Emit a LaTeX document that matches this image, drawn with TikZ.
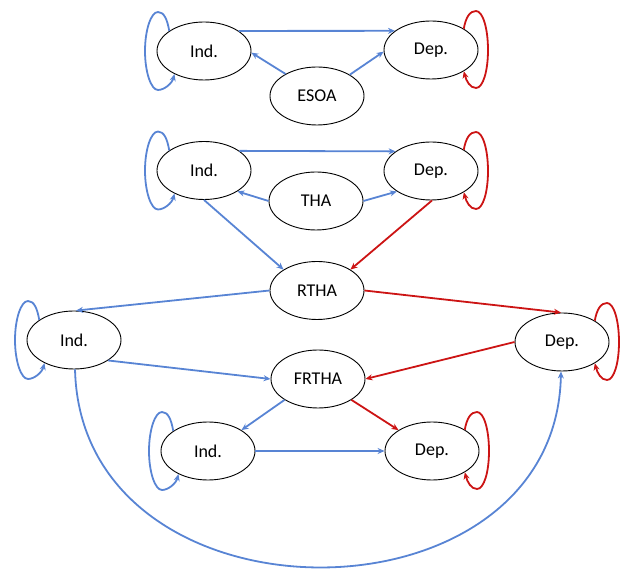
\documentclass[tikz,border=0pt]{standalone}
\usepackage{fontspec}
\setmainfont{Carlito}
\usetikzlibrary{arrows.meta,shapes.geometric}
\definecolor{myblue}{RGB}{88,132,212}
\definecolor{myred}{RGB}{204,20,20}
\newcommand\LoopL[2]{\draw[#2] (#1.150) .. controls +(100:12) and +(0:6) .. ([shift={(-46,39)}]#1.center) .. controls +(180:7) and +(90:21) .. ([shift={(-59,0)}]#1.center) .. controls +(270:21) and +(180:7) .. ([shift={(-46,-39)}]#1.center) .. controls +(0:6) and +(255:10) .. (#1.218);}
\newcommand\LoopR[2]{\draw[#2] (#1.33) .. controls +(80:12) and +(180:6) .. ([shift={(45,39)}]#1.center) .. controls +(0:7) and +(90:21) .. ([shift={(57,0)}]#1.center) .. controls +(270:21) and +(0:7) .. ([shift={(45,-38)}]#1.center) .. controls +(180:6) and +(285:10) .. (#1.-33);}
\begin{document}
\begin{tikzpicture}[x=1pt,y=1pt,
  st/.style={ellipse, draw=black, line width=0.9pt, minimum width=94pt, minimum height=58pt, inner sep=0pt, font=\fontsize{18}{20}\selectfont},
  arr/.style={line width=1.8pt, -{Stealth[length=7pt,width=6pt]}},
  bl/.style={arr, draw=myblue, fill=none},
  rd/.style={arr, draw=myred, fill=none}]
\useasboundingbox (0,0) rectangle (623,572);
% nodes
\node[st] (Ind1) at (204,521) {Ind.};
\node[st] (Dep1) at (431,522) {Dep.};
\node[st] (ESOA) at (317,476) {ESOA};
\node[st] (Ind2) at (204,401.5) {Ind.};
\node[st] (Dep2) at (431,401) {Dep.};
\node[st] (THA) at (316,371) {THA};
\node[st] (RTHA) at (317,281.5) {RTHA};
\node[st] (Ind3) at (74,232) {Ind.};
\node[st] (Dep3) at (562,230) {Dep.};
\node[st] (FRTHA) at (318,193) {FRTHA};
\node[st] (Ind4) at (208,121) {Ind.};
\node[st] (Dep4) at (432,121) {Dep.};
% top block
\draw[bl] (Ind1.30) -- (Dep1.152);
\draw[bl] (ESOA.145) -- (Ind1.-2);
\draw[bl] (ESOA.33) -- (Dep1.182);
\LoopL{Ind1}{bl}
\LoopR{Dep1}{rd}
% second block
\draw[bl] (Ind2.29) -- (Dep2.151);
\draw[bl] (THA.180) -- (Ind2.-32);
\draw[bl] (THA.0) -- (Dep2.211);
\LoopL{Ind2}{bl}
\LoopR{Dep2}{rd}
\draw[bl] (Ind2.270) -- (RTHA.148);
\draw[rd] (Dep2.272) -- (RTHA.32);
% middle
\draw[bl] (RTHA.180) -- (Ind3.86);
\draw[rd] (RTHA.0) -- (Dep3.92);
\draw[bl] (Ind3.-31) -- (FRTHA.180);
\draw[rd] (Dep3.180) -- (FRTHA.0);
\LoopL{Ind3}{bl}
\LoopR{Dep3}{rd}
% bottom block
\draw[bl] (FRTHA.212) -- (Ind4.32);
\draw[rd] (FRTHA.-32) -- (Dep4.148);
\draw[bl] (Ind4.0) -- (Dep4.180);
\LoopL{Ind4}{bl}
\LoopR{Dep4}{rd}
% big arc
\draw[bl] (Ind3.272) .. controls +(6,-263) and +(-5,-261) .. (Dep3.268);
\end{tikzpicture}
\end{document}
